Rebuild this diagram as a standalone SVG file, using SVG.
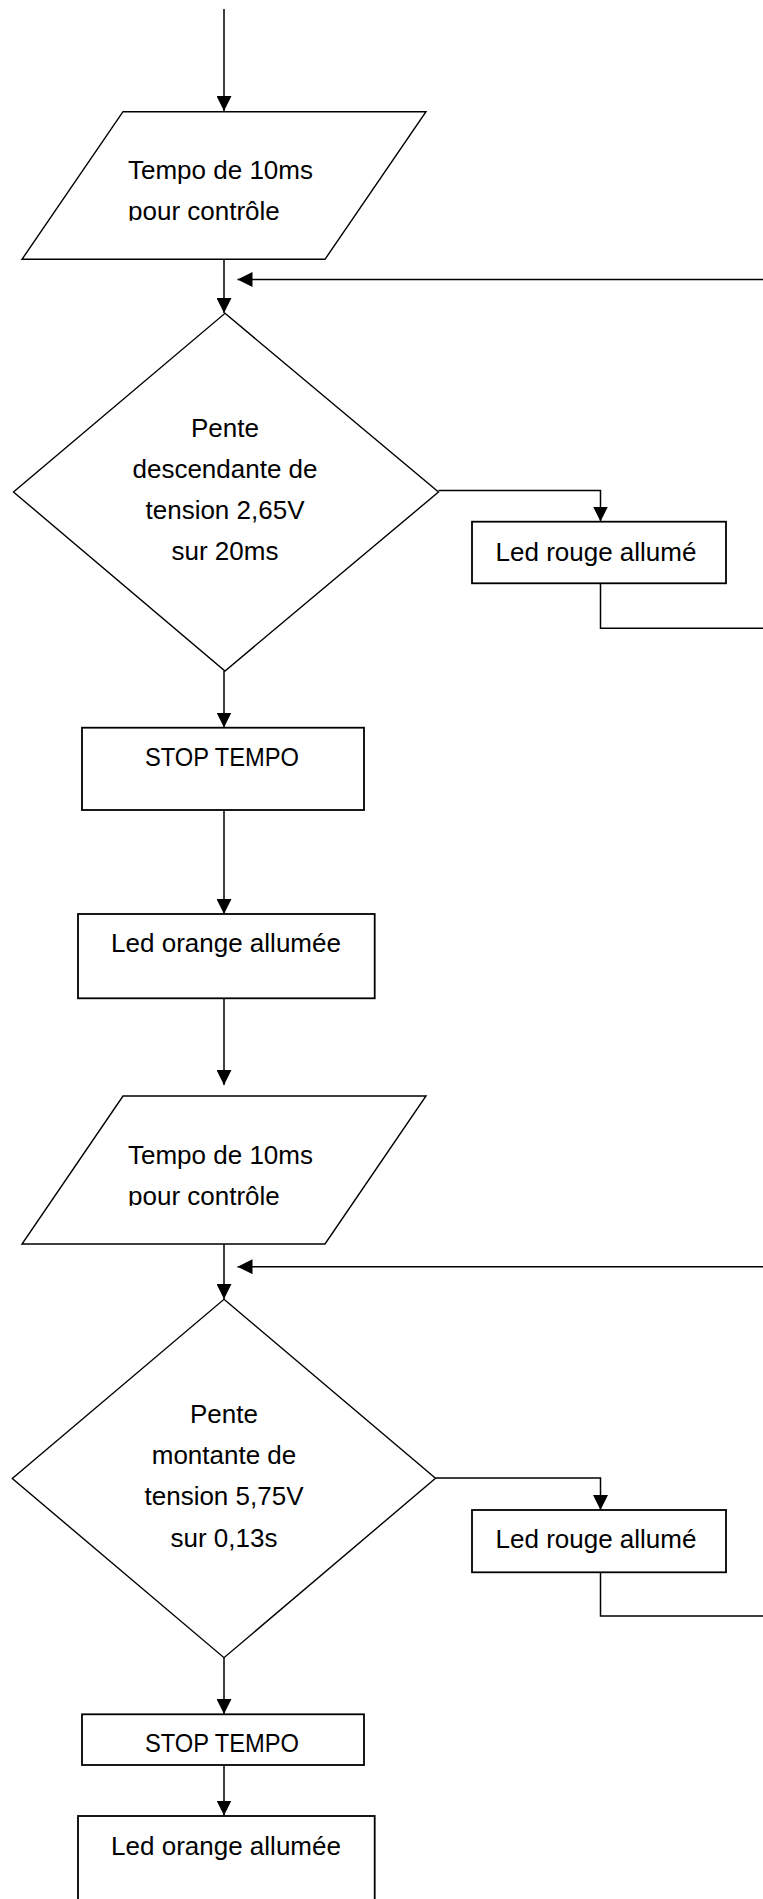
<svg xmlns="http://www.w3.org/2000/svg" width="763" height="1899" viewBox="0 0 763 1899">
  <style>
    .shape { fill: #ffffff; stroke: #000000; stroke-width: 1.4; }
    .box { fill: #ffffff; stroke: #000000; stroke-width: 1.8; }
    .conn { fill: none; stroke: #000000; stroke-width: 1.5; }
    .lbl { font-family: "Liberation Sans", Arial, sans-serif; font-size: 26px; fill: #000000; }
    .mid { text-anchor: middle; }
  </style>
  <defs>
    <marker id="arrow" markerUnits="userSpaceOnUse" markerWidth="15" markerHeight="15" refX="15" refY="7.5" orient="auto">
      <path d="M0,0 L15,7.5 L0,15 Z" fill="#000000"/>
    </marker>
    <clipPath id="clipP1"><rect x="0" y="100" width="763" height="120.7"/></clipPath>
    <clipPath id="clipP2"><rect x="0" y="1085" width="763" height="120.7"/></clipPath>
  </defs>

  <g id="connectors">
    <line class="conn" x1="224" y1="9" x2="224" y2="111" marker-end="url(#arrow)"/>
    <line class="conn" x1="224" y1="259.5" x2="224" y2="313" marker-end="url(#arrow)"/>
    <line class="conn" x1="763" y1="279.5" x2="237.5" y2="279.5" marker-end="url(#arrow)"/>
    <polyline class="conn" points="438.5,490.5 600.5,490.5 600.5,521.5" marker-end="url(#arrow)"/>
    <polyline class="conn" points="600.5,583.5 600.5,628.3 763,628.3"/>
    <line class="conn" x1="224" y1="671" x2="224" y2="727.5" marker-end="url(#arrow)"/>
    <line class="conn" x1="224" y1="810" x2="224" y2="914" marker-end="url(#arrow)"/>
    <line class="conn" x1="224" y1="998.5" x2="224" y2="1085" marker-end="url(#arrow)"/>
    <line class="conn" x1="224" y1="1244" x2="224" y2="1299" marker-end="url(#arrow)"/>
    <line class="conn" x1="763" y1="1266.7" x2="237.5" y2="1266.7" marker-end="url(#arrow)"/>
    <polyline class="conn" points="435.5,1478 600.5,1478 600.5,1510" marker-end="url(#arrow)"/>
    <polyline class="conn" points="600.5,1572.5 600.5,1616 763,1616"/>
    <line class="conn" x1="224" y1="1658" x2="224" y2="1714" marker-end="url(#arrow)"/>
    <line class="conn" x1="224" y1="1765" x2="224" y2="1815.5" marker-end="url(#arrow)"/>
  </g>

  <g id="tempo1">
    <polygon class="shape" points="123,111.7 426,111.7 325,259.3 22,259.3"/>
    <g clip-path="url(#clipP1)">
      <text class="lbl" x="128" y="179.3">Tempo de 10ms</text>
      <text class="lbl" x="128" y="219.5">pour contrôle</text>
    </g>
  </g>

  <g id="decision1">
    <polygon class="shape" points="225,313.3 438.5,492 225,671 13.5,492"/>
    <text class="lbl mid" x="225" y="437">Pente</text>
    <text class="lbl mid" x="225" y="478">descendante de</text>
    <text class="lbl mid" x="225" y="519">tension 2,65V</text>
    <text class="lbl mid" x="225" y="559.5">sur 20ms</text>
  </g>

  <g id="ledRouge1">
    <rect class="box" x="472" y="521.7" width="254" height="61.6"/>
    <text class="lbl mid" x="596" y="560.5">Led rouge allumé</text>
  </g>

  <g id="stop1">
    <rect class="box" x="82" y="727.7" width="282" height="82.3"/>
    <text class="lbl mid" x="222" y="765.7" textLength="154" lengthAdjust="spacingAndGlyphs">STOP TEMPO</text>
  </g>

  <g id="ledOrange1">
    <rect class="box" x="78" y="914" width="296.7" height="84.3"/>
    <text class="lbl mid" x="226" y="952.3">Led orange allumée</text>
  </g>

  <g id="tempo2">
    <polygon class="shape" points="123,1096 426,1096 325,1244 22,1244"/>
    <g clip-path="url(#clipP2)">
      <text class="lbl" x="128" y="1164">Tempo de 10ms</text>
      <text class="lbl" x="128" y="1204.5">pour contrôle</text>
    </g>
  </g>

  <g id="decision2">
    <polygon class="shape" points="224,1299.3 435.5,1478.3 224,1657.7 12.3,1478.5"/>
    <text class="lbl mid" x="224" y="1423.3">Pente</text>
    <text class="lbl mid" x="224" y="1464">montante de</text>
    <text class="lbl mid" x="224" y="1505">tension 5,75V</text>
    <text class="lbl mid" x="224" y="1546.5">sur 0,13s</text>
  </g>

  <g id="ledRouge2">
    <rect class="box" x="472" y="1510" width="254" height="62.3"/>
    <text class="lbl mid" x="596" y="1548">Led rouge allumé</text>
  </g>

  <g id="stop2">
    <rect class="box" x="82" y="1714.3" width="282" height="50.7"/>
    <text class="lbl mid" x="222" y="1752.3" textLength="154" lengthAdjust="spacingAndGlyphs">STOP TEMPO</text>
  </g>

  <g id="ledOrange2">
    <rect class="box" x="78" y="1816" width="296.7" height="100"/>
    <text class="lbl mid" x="226" y="1854.5">Led orange allumée</text>
  </g>
</svg>
